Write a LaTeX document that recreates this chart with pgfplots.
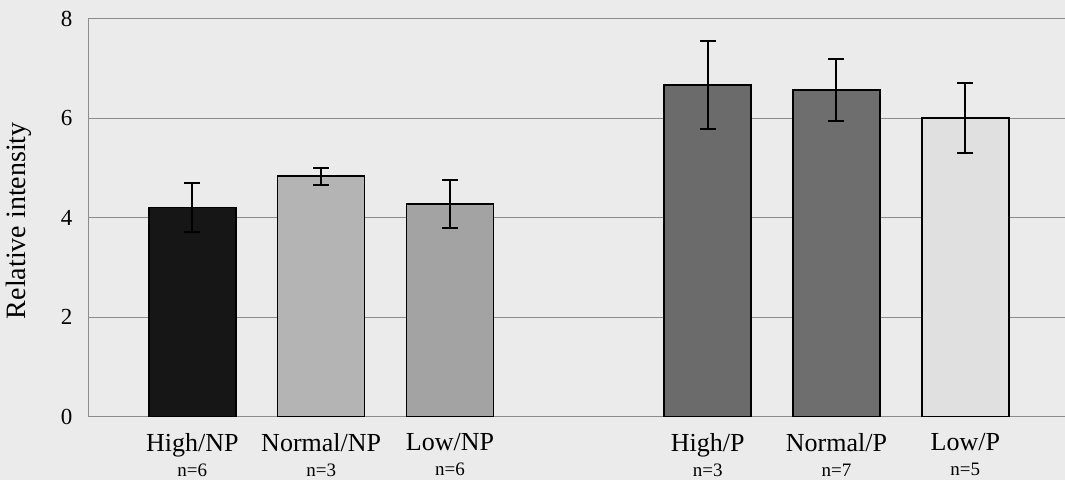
\documentclass[border=0pt]{standalone}
\usepackage{fontspec}
\setmainfont{Liberation Serif}
\usepackage{pgfplots}
\pgfplotsset{compat=1.18}

\definecolor{bgcol}{HTML}{EBEBEB}
\definecolor{gridcol}{HTML}{8C8C8C}
\definecolor{highnp}{HTML}{161616}
\definecolor{normalnp}{HTML}{B4B4B4}
\definecolor{lownp}{HTML}{A3A3A3}
\definecolor{highp}{HTML}{6B6B6B}
\definecolor{normalp}{HTML}{6E6E6E}
\definecolor{lowp}{HTML}{E0E0E0}

\newcommand{\nn}[1]{{\fontsize{19}{19}\selectfont #1}}

\begin{document}
\begin{tikzpicture}
\fill[bgcol] (-88pt,-63.5pt) rectangle (977pt,416.5pt);
\begin{axis}[
    at={(0,0)}, anchor=south west,
    scale only axis,
    width=977pt, height=398pt,
    ybar, bar width=87pt,
    xmin=-0.81, xmax=6.774,
    ymin=0, ymax=8,
    ytick={0,2,4,6,8},
    xtick={0,1,2,4,5,6},
    xticklabels={
        {High/NP\\\nn{n=6}},
        {Normal/NP\\\nn{n=3}},
        {Low/NP\\\nn{n=6}},
        {High/P\\\nn{n=3}},
        {Normal/P\\\nn{n=7}},
        {Low/P\\\nn{n=5}}},
    xticklabel style={font=\fontsize{26}{25}\selectfont, align=center, yshift=-13pt},
    yticklabel style={font=\fontsize{23}{23}\selectfont, xshift=-12pt},
    /pgf/number format/assume math mode=true,
    major tick length=0pt,
    axis x line*=bottom,
    axis y line*=left,
    axis line style={gridcol, line width=0.9pt},
    ymajorgrids,
    grid style={gridcol, line width=0.9pt},
    ylabel={Relative intensity},
    every axis y label/.style={at={(rel axis cs:0,0.492)}, xshift=-69pt, rotate=90,
        anchor=center, font=\fontsize{28}{28}\selectfont},
    every axis plot/.append style={bar shift=0pt, draw=black, line width=1.5pt,
        error bars/y dir=both, error bars/y explicit,
        error bars/error bar style={black, line width=2pt},
        error bars/error mark options={rotate=90, mark size=8pt, line width=2pt, black}},
]
\addplot[fill=highnp] coordinates {(0,4.20) +- (0,0.50)};
\addplot[fill=normalnp] coordinates {(1,4.83) +- (0,0.17)};
\addplot[fill=lownp] coordinates {(2,4.27) +- (0,0.485)};
\addplot[fill=highp] coordinates {(4,6.665) +- (0,0.885)};
\addplot[fill=normalp] coordinates {(5,6.56) +- (0,0.62)};
\addplot[fill=lowp] coordinates {(6,6.00) +- (0,0.70)};
\end{axis}
\pgfresetboundingbox
\path (-88pt,-63.5pt) rectangle (977pt,416.5pt);
\end{tikzpicture}
\end{document}
